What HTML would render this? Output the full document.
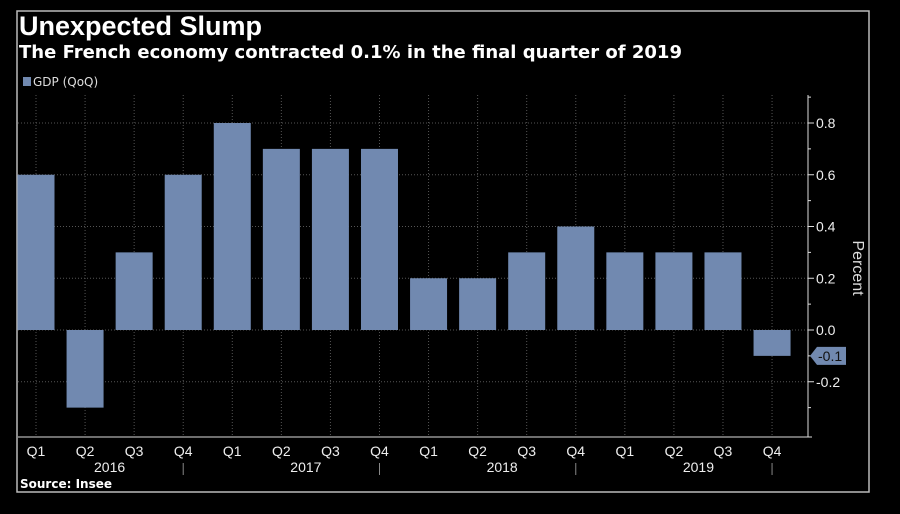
<!DOCTYPE html>
<html><head><meta charset="utf-8"><style>
body{margin:0;background:#000;width:900px;height:509px;overflow:hidden;font-family:"Liberation Sans",sans-serif}
</style></head><body>
<svg width="900" height="509" xmlns="http://www.w3.org/2000/svg">
<rect x="17" y="11" width="852" height="481" fill="none" stroke="#bbb" stroke-width="1.5"/>
<text x="19" y="35" fill="#fff" font-size="27" font-weight="bold">Unexpected Slump</text>
<text x="19" y="58" fill="#fff" font-size="18" font-weight="bold" font-family="DejaVu Sans, sans-serif">The French economy contracted 0.1% in the final quarter of 2019</text>
<rect x="23" y="77" width="8" height="9" fill="#7189b0"/>
<text x="33" y="86" fill="#ddd" font-size="12" font-family="DejaVu Sans, sans-serif">GDP (QoQ)</text>
<g id="grid"></g><g id="bars"></g><g id="axis"></g>
<text x="853" y="268" fill="#ddd" font-size="16" transform="rotate(90 853 268)" text-anchor="middle">Percent</text>
<text x="20" y="488" fill="#fff" font-size="12" font-weight="bold" font-family="DejaVu Sans, sans-serif">Source: Insee</text>
</svg>
<script>
const quarters=["Q1","Q2","Q3","Q4","Q1","Q2","Q3","Q4","Q1","Q2","Q3","Q4","Q1","Q2","Q3","Q4"];
const years=["2016","2017","2018","2019"];
const values=[0.6,-0.3,0.3,0.6,0.8,0.7,0.7,0.7,0.2,0.2,0.3,0.4,0.3,0.3,0.3,-0.1];
const yTicks=[0.8,0.6,0.4,0.2,0.0,-0.2];
const NS="http://www.w3.org/2000/svg";
const xPos=i=>36+i*49.07;
const yPos=v=>330-v*258.75;
const plotTop=95,plotBottom=437,axisX=808;
function mk(tag,attrs,parent,text){const e=document.createElementNS(NS,tag);for(const k in attrs)e.setAttribute(k,attrs[k]);if(text!=null)e.textContent=text;document.getElementById(parent).appendChild(e);return e;}
yTicks.forEach(t=>{
 const l=mk('line',{x1:18,x2:axisX,y1:yPos(t),y2:yPos(t),stroke:'#555','stroke-dasharray':'1,2'},'grid');
 
 
 const tk=mk('line',{x1:axisX,x2:axisX+6,y1:yPos(t),y2:yPos(t),stroke:'#ddd'},'axis');
 
 
 const lb=mk('text',{x:axisX+8,y:yPos(t)+5,fill:'#eee','font-size':14},'axis',t.toFixed(1));
 
 
});
[0.9,0.7,0.5,0.3,0.1,-0.1,-0.3].forEach(t=>{mk('line',{x1:axisX,x2:axisX+3,y1:yPos(t),y2:yPos(t),stroke:'#ddd'},'axis');});
quarters.forEach((q,i)=>{
 const g=mk('line',{x1:xPos(i),x2:xPos(i),y1:plotTop,y2:plotBottom,stroke:'#555','stroke-dasharray':'1,2'},'grid');
 
 
 const v=values[i];
 const b=mk('rect',{x:xPos(i)-18.5,width:37,y:Math.min(yPos(v),yPos(0)),height:Math.abs(yPos(v)-yPos(0)),fill:'#7189b0'},'bars');
 
 
 const lb=mk('text',{x:xPos(i),y:456,fill:'#eee','font-size':14,'text-anchor':'middle'},'axis',q);
 
 
 if(q==="Q4"){mk('line',{x1:xPos(i),x2:xPos(i),y1:463,y2:475,stroke:'#888'},'axis');}
});
years.forEach((yr,k)=>{
 const t=mk('text',{x:(xPos(k*4+1)+xPos(k*4+2))/2,y:472,fill:'#eee','font-size':14,'text-anchor':'middle'},'axis',yr);
 
 
});
mk('line',{x1:axisX,x2:axisX,y1:plotTop,y2:plotBottom,stroke:'#ddd'},'axis');
mk('line',{x1:18,x2:axisX+4,y1:plotBottom,y2:plotBottom,stroke:'#ddd'},'axis');
const last=values[values.length-1];
const ly=yPos(last);
const tag=mk('path',{d:`M${axisX+2} ${ly} L${axisX+9} ${ly-9} L${axisX+38} ${ly-9} L${axisX+38} ${ly+9} L${axisX+9} ${ly+9} Z`,fill:'#7189b0'},'axis');


const tt=mk('text',{x:axisX+10,y:ly+5,fill:'#111','font-size':14},'axis',last.toFixed(1));


</script>
</body></html>
